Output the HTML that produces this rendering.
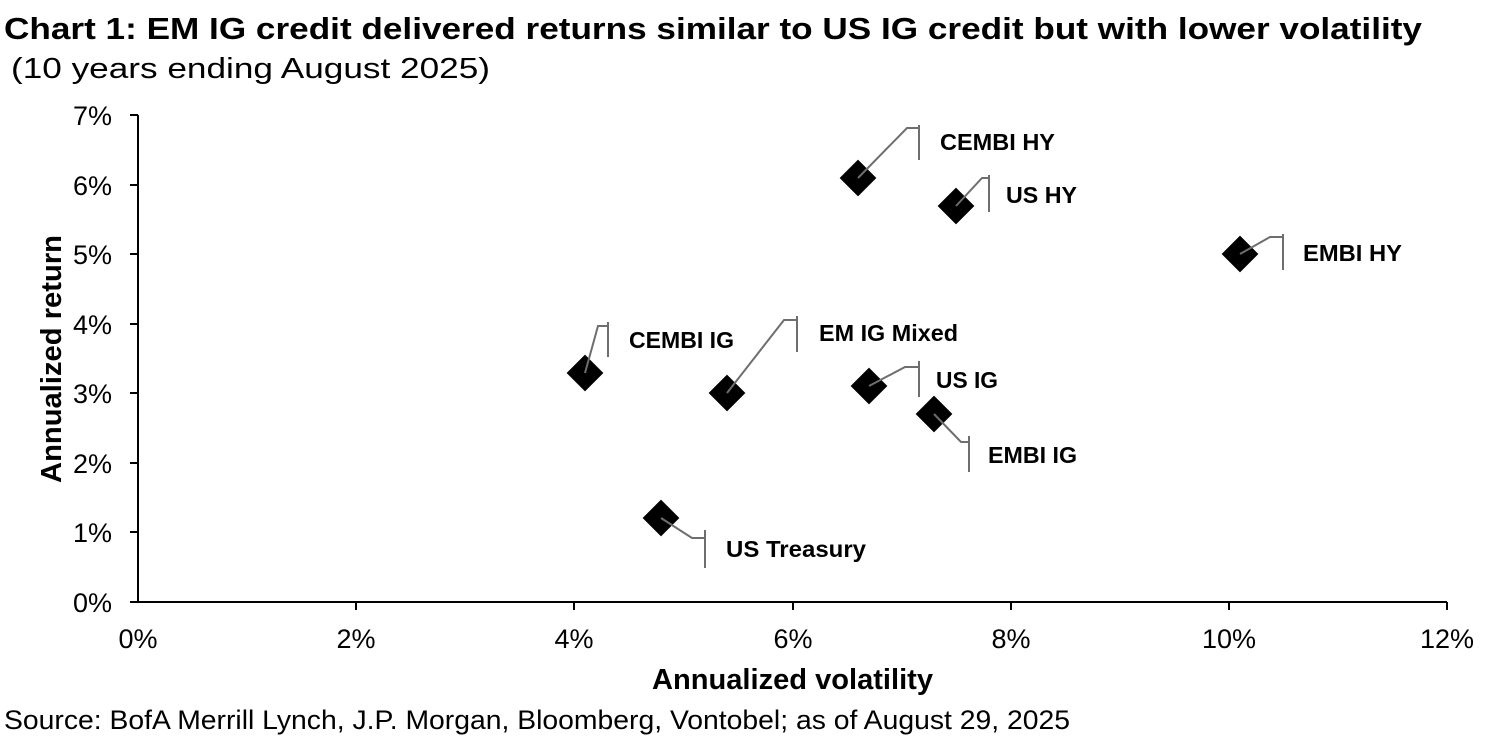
<!DOCTYPE html>
<html><head><meta charset="utf-8"><style>
html,body{margin:0;padding:0;background:#fff;}
svg{display:block;font-family:"Liberation Sans",Arial,sans-serif;}
</style></head><body>
<svg width="1500" height="750" viewBox="0 0 1500 750" xmlns="http://www.w3.org/2000/svg">
<text x="4" y="39" font-size="31" font-weight="bold" textLength="1418" lengthAdjust="spacingAndGlyphs">Chart 1: EM IG credit delivered returns similar to US IG credit but with lower volatility</text>
<text x="11" y="78" font-size="29" textLength="479" lengthAdjust="spacingAndGlyphs">(10 years ending August 2025)</text>
<g stroke="#000" stroke-width="2" fill="none">
<line x1="138" y1="115" x2="138" y2="602"/>
<line x1="130" y1="602" x2="1447" y2="602"/>
<line x1="130" y1="115" x2="138" y2="115"/>
<line x1="130" y1="185" x2="138" y2="185"/>
<line x1="130" y1="254" x2="138" y2="254"/>
<line x1="130" y1="324" x2="138" y2="324"/>
<line x1="130" y1="393" x2="138" y2="393"/>
<line x1="130" y1="463" x2="138" y2="463"/>
<line x1="130" y1="532" x2="138" y2="532"/>
<line x1="356" y1="602" x2="356" y2="610"/>
<line x1="574" y1="602" x2="574" y2="610"/>
<line x1="793" y1="602" x2="793" y2="610"/>
<line x1="1011" y1="602" x2="1011" y2="610"/>
<line x1="1229" y1="602" x2="1229" y2="610"/>
<line x1="1447" y1="602" x2="1447" y2="610"/>
</g>
<g font-size="27" text-anchor="end">
<text x="112" y="125">7%</text><text x="112" y="195">6%</text><text x="112" y="264">5%</text>
<text x="112" y="334">4%</text><text x="112" y="403">3%</text><text x="112" y="473">2%</text>
<text x="112" y="542">1%</text><text x="112" y="612">0%</text>
</g>
<g font-size="27" text-anchor="middle">
<text x="138" y="648">0%</text><text x="356" y="648">2%</text><text x="574" y="648">4%</text>
<text x="793" y="648">6%</text><text x="1011" y="648">8%</text><text x="1229" y="648">10%</text><text x="1447" y="648">12%</text>
</g>
<text x="652" y="689" font-size="29" font-weight="bold" textLength="281" lengthAdjust="spacingAndGlyphs">Annualized volatility</text>
<text transform="translate(61,483) rotate(-90)" font-size="29" font-weight="bold" textLength="248" lengthAdjust="spacingAndGlyphs">Annualized return</text>
<text x="4" y="729" font-size="27" textLength="1066" lengthAdjust="spacingAndGlyphs">Source: BofA Merrill Lynch, J.P. Morgan, Bloomberg, Vontobel; as of August 29, 2025</text>
<g fill="#000">
<rect x="845" y="165" width="26" height="26" transform="rotate(45 858 178)"/>
<rect x="943" y="193" width="26" height="26" transform="rotate(45 956 206)"/>
<rect x="1227" y="241" width="26" height="26" transform="rotate(45 1240 254)"/>
<rect x="572" y="360" width="26" height="26" transform="rotate(45 585 373)"/>
<rect x="714" y="380" width="26" height="26" transform="rotate(45 727 393)"/>
<rect x="856" y="373" width="26" height="26" transform="rotate(45 869 386)"/>
<rect x="921" y="401" width="26" height="26" transform="rotate(45 934 414)"/>
<rect x="648" y="505" width="26" height="26" transform="rotate(45 661 518)"/>
</g>
<g stroke="#6e6e6e" stroke-width="2" fill="none">
<polyline points="858,178 907,128 919,128"/><line x1="919" y1="125" x2="919" y2="160"/>
<polyline points="956,206 982,178 989,178"/><line x1="989" y1="175" x2="989" y2="212"/>
<polyline points="1240,254 1270,237 1283,237"/><line x1="1283" y1="234" x2="1283" y2="270"/>
<polyline points="585,373 598,326 608,326"/><line x1="608" y1="322" x2="608" y2="357"/>
<polyline points="727,393 784,320 797,320"/><line x1="797" y1="316" x2="797" y2="352"/>
<polyline points="869,386 905,367 919,367"/><line x1="919" y1="361" x2="919" y2="397"/>
<polyline points="934,414 961,442 969,442"/><line x1="969" y1="436" x2="969" y2="472"/>
<polyline points="661,518 692,538 705,538"/><line x1="705" y1="530" x2="705" y2="568"/>
</g>
<g font-size="23" font-weight="bold">
<text x="940" y="150" textLength="115" lengthAdjust="spacingAndGlyphs">CEMBI HY</text>
<text x="1006" y="203" textLength="71" lengthAdjust="spacingAndGlyphs">US HY</text>
<text x="1303" y="261" textLength="99" lengthAdjust="spacingAndGlyphs">EMBI HY</text>
<text x="629" y="348" textLength="105" lengthAdjust="spacingAndGlyphs">CEMBI IG</text>
<text x="819" y="341" textLength="139" lengthAdjust="spacingAndGlyphs">EM IG Mixed</text>
<text x="936" y="388" textLength="62" lengthAdjust="spacingAndGlyphs">US IG</text>
<text x="988" y="463" textLength="89" lengthAdjust="spacingAndGlyphs">EMBI IG</text>
<text x="726" y="557" textLength="140" lengthAdjust="spacingAndGlyphs">US Treasury</text>
</g>
</svg>
</body></html>
